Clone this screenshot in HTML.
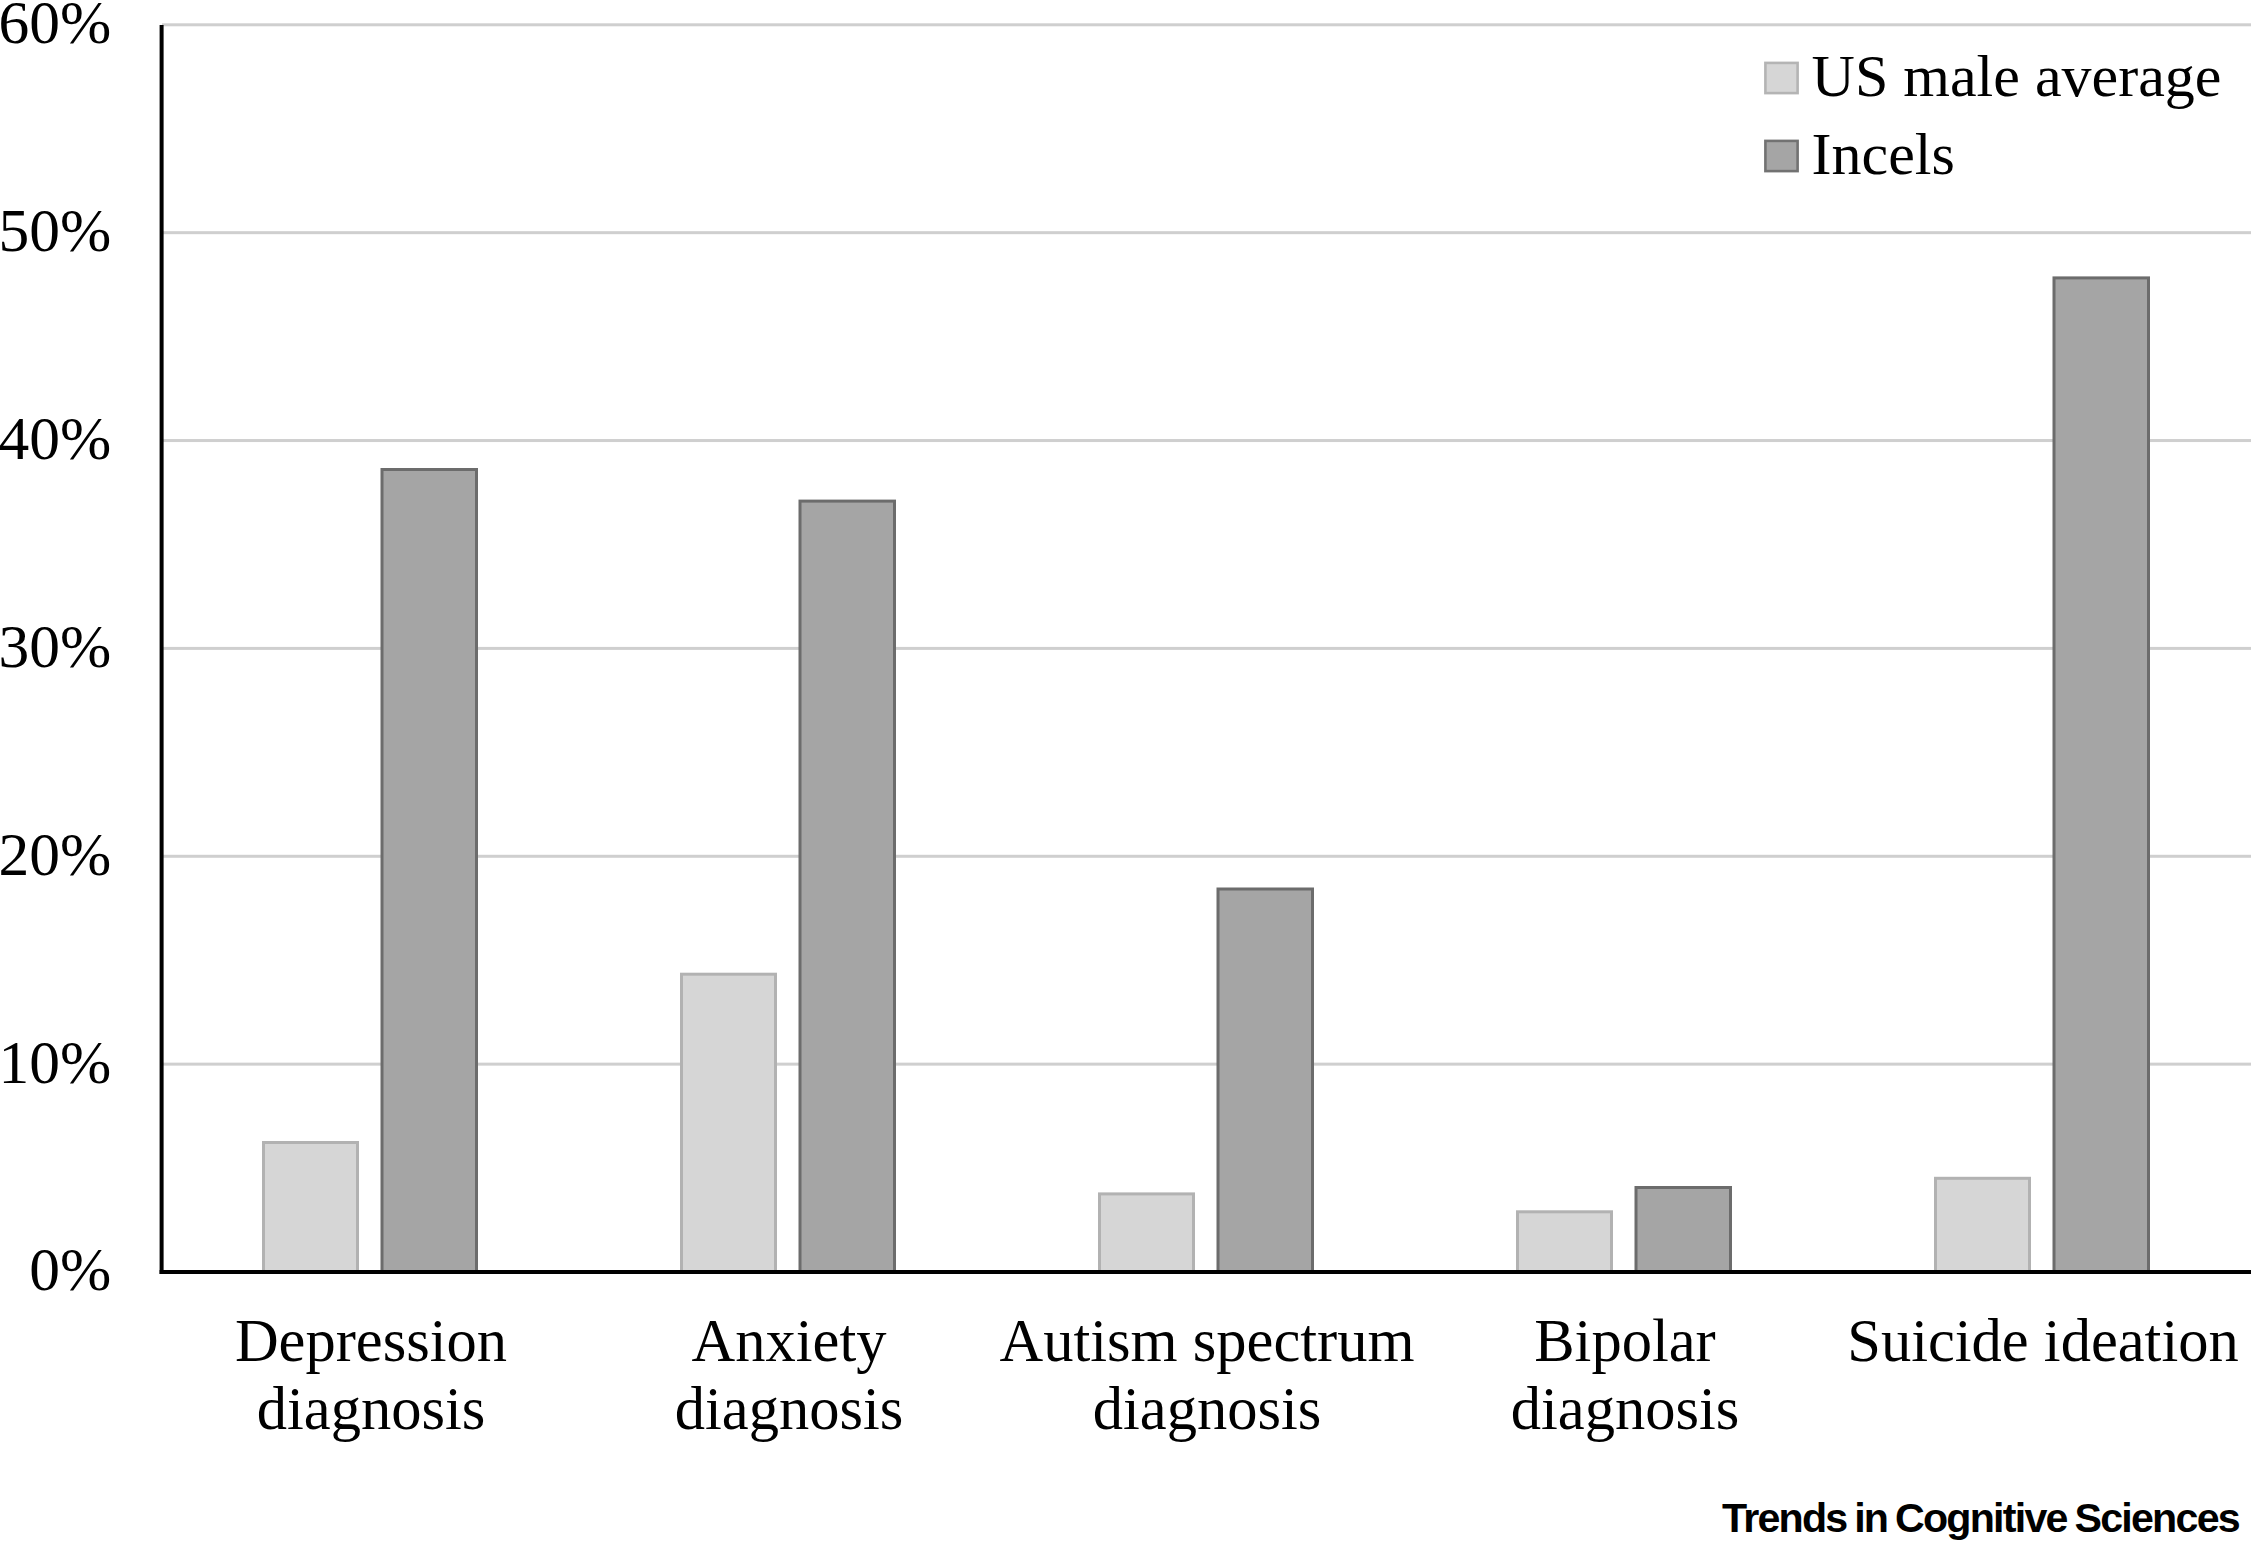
<!DOCTYPE html>
<html lang="en"><head><meta charset="utf-8"><title>Chart</title>
<style>
html,body{margin:0;padding:0;background:#fff;}
body{width:2257px;height:1542px;overflow:hidden;position:relative;}
svg{position:absolute;left:0;top:0;display:block;}
.t{font-family:"Liberation Serif","Times New Roman",Times,serif;font-size:60px;fill:#000;}
.j{font-family:"Liberation Sans",Arial,Helvetica,sans-serif;font-weight:bold;font-size:41.2px;letter-spacing:-1.76px;word-spacing:-2px;fill:#000;}
</style></head><body>
<svg width="2257" height="1542" viewBox="0 0 2257 1542">
<rect x="0" y="0" width="2257" height="1542" fill="#fff"/>
<rect x="162.0" y="23.30" width="2089.0" height="3" fill="#cfcfcf"/>
<rect x="162.0" y="231.17" width="2089.0" height="3" fill="#cfcfcf"/>
<rect x="162.0" y="439.04" width="2089.0" height="3" fill="#cfcfcf"/>
<rect x="162.0" y="646.91" width="2089.0" height="3" fill="#cfcfcf"/>
<rect x="162.0" y="854.78" width="2089.0" height="3" fill="#cfcfcf"/>
<rect x="162.0" y="1062.65" width="2089.0" height="3" fill="#cfcfcf"/>
<rect x="263.5" y="1142.5" width="94" height="129.5" fill="#d6d6d6" stroke="#b2b2b2" stroke-width="3"/>
<rect x="382.0" y="469.5" width="94.5" height="802.5" fill="#a5a5a5" stroke="#6c6c6c" stroke-width="3"/>
<rect x="681.5" y="974.2" width="94" height="297.8" fill="#d6d6d6" stroke="#b2b2b2" stroke-width="3"/>
<rect x="800.0" y="501.1" width="94.5" height="770.9" fill="#a5a5a5" stroke="#6c6c6c" stroke-width="3"/>
<rect x="1099.5" y="1193.9" width="94" height="78.1" fill="#d6d6d6" stroke="#b2b2b2" stroke-width="3"/>
<rect x="1218.0" y="889.0" width="94.5" height="383.0" fill="#a5a5a5" stroke="#6c6c6c" stroke-width="3"/>
<rect x="1517.5" y="1211.8" width="94" height="60.2" fill="#d6d6d6" stroke="#b2b2b2" stroke-width="3"/>
<rect x="1636.0" y="1187.5" width="94.5" height="84.5" fill="#a5a5a5" stroke="#6c6c6c" stroke-width="3"/>
<rect x="1935.5" y="1178.3" width="94" height="93.7" fill="#d6d6d6" stroke="#b2b2b2" stroke-width="3"/>
<rect x="2054.0" y="277.9" width="94.5" height="994.1" fill="#a5a5a5" stroke="#6c6c6c" stroke-width="3"/>
<rect x="159.6" y="25" width="4" height="1249" fill="#000"/>
<rect x="159.6" y="1270" width="2091.4" height="4" fill="#000"/>
<text class="t" style="font-size:61.5px" x="111.3" y="43.20" text-anchor="end">60%</text>
<text class="t" style="font-size:61.5px" x="111.3" y="251.07" text-anchor="end">50%</text>
<text class="t" style="font-size:61.5px" x="111.3" y="458.94" text-anchor="end">40%</text>
<text class="t" style="font-size:61.5px" x="111.3" y="666.81" text-anchor="end">30%</text>
<text class="t" style="font-size:61.5px" x="111.3" y="874.68" text-anchor="end">20%</text>
<text class="t" style="font-size:61.5px" x="111.3" y="1082.55" text-anchor="end">10%</text>
<text class="t" style="font-size:61.5px" x="111.3" y="1290.42" text-anchor="end">0%</text>
<text class="t" style="font-size:60.5px" x="371.0" y="1361.0" text-anchor="middle">Depression</text>
<text class="t" style="font-size:60.5px" x="371.0" y="1429.4" text-anchor="middle">diagnosis</text>
<text class="t" style="font-size:60.5px" x="789.0" y="1361.0" text-anchor="middle">Anxiety</text>
<text class="t" style="font-size:60.5px" x="789.0" y="1429.4" text-anchor="middle">diagnosis</text>
<text class="t" style="font-size:60.5px" x="1207.0" y="1361.0" text-anchor="middle">Autism spectrum</text>
<text class="t" style="font-size:60.5px" x="1207.0" y="1429.4" text-anchor="middle">diagnosis</text>
<text class="t" style="font-size:60.5px" x="1625.0" y="1361.0" text-anchor="middle">Bipolar</text>
<text class="t" style="font-size:60.5px" x="1625.0" y="1429.4" text-anchor="middle">diagnosis</text>
<text class="t" style="font-size:60.5px" x="2043.0" y="1361.0" text-anchor="middle">Suicide ideation</text>
<rect x="1765.4" y="62.9" width="32.2" height="30.2" fill="#d6d6d6" stroke="#b4b4b4" stroke-width="2.6"/>
<rect x="1765.4" y="140.9" width="32.2" height="30.2" fill="#a5a5a5" stroke="#727272" stroke-width="2.6"/>
<text class="t" x="1811.6" y="95.6">US male average</text>
<text class="t" x="1811.6" y="173.6">Incels</text>
<text class="j" x="1722" y="1531.7">Trends in Cognitive Sciences</text>
</svg></body></html>
